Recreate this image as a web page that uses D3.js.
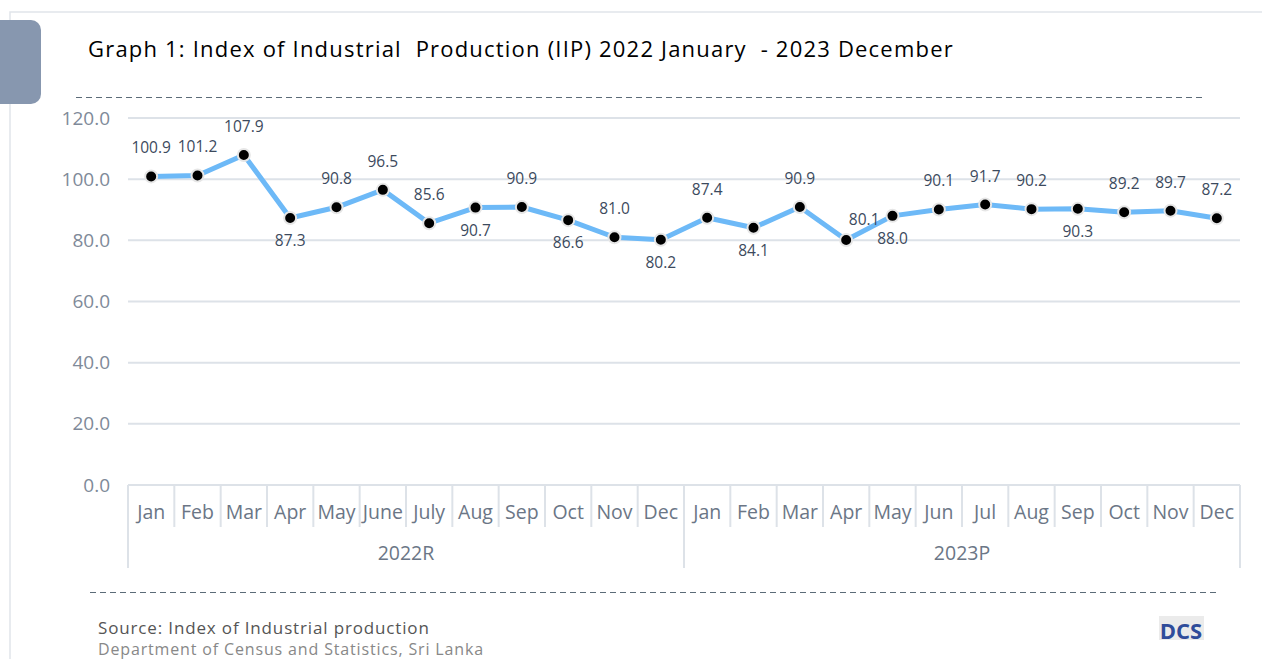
<!DOCTYPE html>
<html>
<head>
<meta charset="utf-8">
<script src="https://cdn.jsdelivr.net/npm/d3@7"></script>
<style>
body { margin: 0; background: #fff; }
text { font-family: "Open Sans", "Noto Sans", sans-serif; }
</style>
</head>
<body>
<script>
var width = 1262;
var height = 659;

var years = ["2022R", "2023P"];
var months2022 = ["Jan", "Feb", "Mar", "Apr", "May", "June", "July", "Aug", "Sep", "Oct", "Nov", "Dec"];
var months2023 = ["Jan", "Feb", "Mar", "Apr", "May", "Jun", "Jul", "Aug", "Sep", "Oct", "Nov", "Dec"];
var values2022 = [100.9, 101.2, 107.9, 87.3, 90.8, 96.5, 85.6, 90.7, 90.9, 86.6, 81.0, 80.2];
var values2023 = [87.4, 84.1, 90.9, 80.1, 88.0, 90.1, 91.7, 90.2, 90.3, 89.2, 89.7, 87.2];
var yTicks = [0, 20, 40, 60, 80, 100, 120];
// where each data label sits: a = above, b = below, r = above right
var labelPlace2022 = ["a", "a", "a", "b", "a", "a", "a", "b", "a", "b", "a", "b"];
var labelPlace2023 = ["a", "b", "a", "r", "b", "a", "a", "a", "b", "a", "a", "a"];

var months = months2022.concat(months2023);
var values = values2022.concat(values2023);
var places = labelPlace2022.concat(labelPlace2023);

var data = values.map(function (v, i) {
    return { i: i, month: months[i], value: v, place: places[i] };
});

var svg = d3.select("body").append("svg")
    .attr("width", width)
    .attr("height", height);

// frame + tab
svg.append("rect")
    .attr("x", 10).attr("y", 12)
    .attr("width", 1260).attr("height", 660)
    .style("fill", "none")
    .style("stroke", "#e1e5ea")
    .style("stroke-width", 1.5);

svg.append("rect")
    .attr("x", -10).attr("y", 20)
    .attr("width", 51).attr("height", 84)
    .attr("rx", 10)
    .style("fill", "#8797af");

svg.append("text")
    .attr("x", 88).attr("y", 57)
    .style("font-size", "22px")
    .style("letter-spacing", "1.2px")
    .style("fill", "#000")
    .style("white-space", "pre")
    .text("Graph 1: Index of Industrial  Production (IIP) 2022 January  - 2023 December");

svg.append("line")
    .attr("x1", 76).attr("x2", 1203)
    .attr("y1", 97.5).attr("y2", 97.5)
    .style("stroke", "#5b6b78")
    .style("stroke-width", 1)
    .style("stroke-dasharray", "6,4");

svg.append("line")
    .attr("x1", 90).attr("x2", 1218)
    .attr("y1", 592.5).attr("y2", 592.5)
    .style("stroke", "#5b6b78")
    .style("stroke-width", 1)
    .style("stroke-dasharray", "6,4");

var x = d3.scaleBand()
    .domain(d3.range(24))
    .range([128, 1240]);

var y = d3.scaleLinear()
    .domain([0, 120])
    .range([485, 118]);

// gridlines
svg.append("g")
    .selectAll("line")
    .data(yTicks)
    .enter().append("line")
    .attr("x1", 128).attr("x2", 1240)
    .attr("y1", function (d) { return y(d); })
    .attr("y2", function (d) { return y(d); })
    .style("stroke", "#dde2e8")
    .style("stroke-width", 2);

var yAxis = d3.axisLeft(y)
    .tickValues(yTicks)
    .tickSize(0)
    .tickPadding(18)
    .tickFormat(d3.format(".1f"));

var gy = svg.append("g")
    .attr("transform", "translate(128,0)")
    .call(yAxis);
gy.select(".domain").remove();
gy.selectAll("text")
    .style("font-size", "19px")
    .style("fill", "#7f8a99")
    .style("font-family", "'Open Sans', sans-serif");

// category separators
svg.append("g")
    .selectAll("line")
    .data(d3.range(25))
    .enter().append("line")
    .attr("x1", function (d) { return d < 24 ? x(d) : x.range()[1]; })
    .attr("x2", function (d) { return d < 24 ? x(d) : x.range()[1]; })
    .attr("y1", 485)
    .attr("y2", function (d) { return d % 12 == 0 ? 568 : 527; })
    .style("stroke", "#dde2e8")
    .style("stroke-width", 2);

svg.append("g")
    .selectAll("text")
    .data(data)
    .enter().append("text")
    .attr("x", function (d) { return x(d.i) + x.bandwidth() / 2; })
    .attr("y", 519)
    .style("text-anchor", "middle")
    .style("font-size", "19.5px")
    .style("fill", "#6b7686")
    .text(function (d) { return d.month; });

svg.append("g")
    .selectAll("text")
    .data(years)
    .enter().append("text")
    .attr("x", function (d, k) { return x(k * 12 + 6); })
    .attr("y", 560)
    .style("text-anchor", "middle")
    .style("font-size", "19.5px")
    .style("fill", "#6b7686")
    .text(function (d) { return d; });

// line
var line = d3.line()
    .x(function (d) { return x(d.i) + x.bandwidth() / 2; })
    .y(function (d) { return y(d.value); });

svg.append("path")
    .datum(data)
    .attr("d", line)
    .style("fill", "none")
    .style("stroke", "#6db9f7")
    .style("stroke-width", 5)
    .style("stroke-linejoin", "round");

svg.append("g")
    .selectAll("circle")
    .data(data)
    .enter().append("circle")
    .attr("cx", function (d) { return x(d.i) + x.bandwidth() / 2; })
    .attr("cy", function (d) { return y(d.value); })
    .attr("r", 6)
    .style("fill", "#000")
    .style("stroke", "#e6e6e6")
    .style("stroke-width", 2);

svg.append("g")
    .selectAll("text")
    .data(data)
    .enter().append("text")
    .attr("x", function (d) {
        var cx = x(d.i) + x.bandwidth() / 2;
        return d.place == "r" ? cx + 18 : cx;
    })
    .attr("y", function (d) {
        var cy = y(d.value);
        if (d.place == "b") return cy + 28;
        if (d.place == "r") return cy - 15;
        return cy - 23;
    })
    .style("text-anchor", "middle")
    .style("font-size", "15.5px")
    .style("fill", "#3c4a5d")
    .text(function (d) { return d3.format(".1f")(d.value); });

// footer
svg.append("text")
    .attr("x", 98).attr("y", 634)
    .style("font-size", "17px")
    .style("letter-spacing", "0.85px")
    .style("fill", "#555")
    .text("Source: Index of Industrial production");

svg.append("text")
    .attr("x", 98).attr("y", 655)
    .style("font-size", "16px")
    .style("letter-spacing", "0.85px")
    .style("fill", "#888")
    .text("Department of Census and Statistics, Sri Lanka");

svg.append("rect")
    .attr("x", 1159).attr("y", 616)
    .attr("width", 45).attr("height", 24)
    .style("fill", "#ebebeb");

svg.append("text")
    .attr("x", 1181).attr("y", 639)
    .style("text-anchor", "middle")
    .style("font-size", "22px")
    .style("font-weight", "bold")
    .style("fill", "#2f4c9a")
    .text("DCS");
</script>
</body>
</html>
